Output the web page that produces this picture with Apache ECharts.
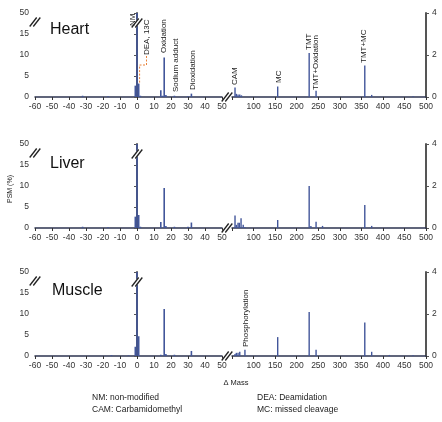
<!DOCTYPE html>
<html>
<head>
<meta charset="utf-8">
<title>PSM vs delta mass</title>
<script src="https://cdn.jsdelivr.net/npm/echarts@6.0.0/dist/echarts.min.js"></script>
<style>
    html, body { margin: 0; padding: 0; background: #fff; }
    #main { width: 442px; height: 422px; }
</style>
</head>
<body>
<div id="main"></div>
<script type="text/javascript">
    // 数据: [delta mass, PSM]
    var tissues = ['Heart', 'Liver', 'Muscle'];

    // 左段 -60..50, 左轴 (%), 顶端 50 为断轴
    var heartLow  = [[-32, 0.3], [-17, 0.15], [-1, 2.7], [0, 45], [1, 3.2], [2, 0.3], [14, 1.6], [15, 0.3], [16, 9.4], [17, 0.5], [22, 0.3], [30, 0.2], [32, 0.8]];
    var liverLow  = [[-32, 0.3], [-17, 0.2], [-1, 2.7], [0, 45], [1, 3.1], [2, 0.3], [14, 1.4], [16, 9.5], [17, 0.5], [22, 0.3], [30, 0.3], [32, 1.3]];
    var muscleLow = [[-15, 0.2], [-5, 0.15], [-1, 2.2], [0, 45], [1, 4.7], [14, 0.3], [16, 11.2], [17, 0.5], [22, 0.3], [32, 1.2]];

    // 右段 50..500, 右轴 (%)
    var heartHigh  = [[57, 0.45], [60, 0.15], [64, 0.12], [68, 0.12], [72, 0.08], [156, 0.5], [229, 2.1], [245, 0.3], [358, 1.5], [374, 0.1], [470, 0.03]];
    var liverHigh  = [[57, 0.6], [60, 0.15], [64, 0.25], [67, 0.25], [71, 0.47], [76, 0.15], [80, 0.05], [156, 0.38], [229, 2.0], [233, 0.1], [245, 0.3], [260, 0.1], [358, 1.1], [374, 0.1]];
    var muscleHigh = [[57, 0.1], [60, 0.15], [64, 0.15], [68, 0.2], [80, 0.3], [156, 0.9], [229, 2.1], [245, 0.3], [358, 1.6], [374, 0.2], [415, 0.05], [470, 0.03]];

    var lowSets = [heartLow, liverLow, muscleLow];
    var highSets = [heartHigh, liverHigh, muscleHigh];

    // 注释文字
    var heartNotes = ['NM', 'DEA, 13C', 'Oxidation', 'Sodium adduct', 'Dioxidation', 'CAM', 'MC', 'TMT', 'TMT+Oxidation', 'TMT+MC'];
    var muscleNotes = ['Phosphorylation'];
    var footNotes = ['NM: non-modified', 'CAM: Carbamidomethyl', 'DEA: Deamidation', 'MC: missed cleavage'];

    // 布局
    var FONT = 'Liberation Sans, Arial, sans-serif';
    var tops = [13, 144, 272];
    var panelH = 84;
    var barColor = '#42569a';
    var heartNotePos = [[132.5, 26], [146.5, 55], [164, 53], [176, 92], [193, 90], [235, 85], [278.5, 83], [308.5, 50], [316, 90], [363.5, 63]];
    var muscleNotePos = [[246, 347]];
    var footPos = [[92, 398], [92, 410], [257, 398], [257, 410]];

    var axisFont = {fontSize: 8.5, color: '#333', fontFamily: FONT};

    var grid = [], xAxis = [], yAxis = [], series = [];
    for (var i = 0; i < 3; i++) {
        grid.push({left: 35, top: tops[i], width: 187, height: panelH});
        grid.push({left: 232, top: tops[i], width: 194, height: panelH});

        xAxis.push({
            type: 'value', gridIndex: 2 * i, min: -60, max: 50, interval: 10,
            axisLine: {show: true, onZero: false, lineStyle: {color: '#2c3350', width: 1.5}},
            axisTick: {show: true, length: 3, lineStyle: {color: '#333'}},
            axisLabel: Object.assign({margin: 5}, axisFont),
            splitLine: {show: false}
        });
        xAxis.push({
            type: 'value', gridIndex: 2 * i + 1, min: 50, max: 500, interval: 50,
            axisLine: {show: true, onZero: false, lineStyle: {color: '#2c3350', width: 1.5}},
            axisTick: {show: true, length: 3, lineStyle: {color: '#333'}},
            axisLabel: Object.assign({margin: 5, formatter: function (v) { return v === 50 ? '' : v; }}, axisFont),
            splitLine: {show: false}
        });
        yAxis.push({
            type: 'value', gridIndex: 2 * i, min: 0, max: 20, interval: 5,
            axisLine: {show: true, lineStyle: {color: '#555', width: 2}},
            axisTick: {show: true, length: 3, lineStyle: {color: '#555'}},
            axisLabel: Object.assign({margin: 6, formatter: function (v) { return v === 20 ? '50' : v; }}, axisFont),
            splitLine: {show: false}
        });
        yAxis.push({
            type: 'value', gridIndex: 2 * i + 1, position: 'right', min: 0, max: 4, interval: 2,
            axisLine: {show: true, lineStyle: {color: '#555', width: 2}},
            axisTick: {show: true, length: 3, lineStyle: {color: '#555'}},
            axisLabel: Object.assign({margin: 6}, axisFont),
            splitLine: {show: false}
        });

        series.push({
            type: 'bar', xAxisIndex: 2 * i, yAxisIndex: 2 * i, data: lowSets[i],
            barWidth: 1.6, clip: true, itemStyle: {color: barColor}, silent: true
        });
        series.push({
            type: 'bar', xAxisIndex: 2 * i + 1, yAxisIndex: 2 * i + 1, data: highSets[i],
            barWidth: 1.4, clip: true, itemStyle: {color: barColor}, silent: true
        });
    }

    var myChart = echarts.init(document.getElementById('main'), null, {renderer: 'canvas'});
    myChart.setOption({
        animation: false,
        backgroundColor: '#fff',
        grid: grid,
        xAxis: xAxis,
        yAxis: yAxis,
        series: series
    });

    // 断轴标记 //
    function breakMark(cx, cy) {
        var items = [{
            type: 'line', z: 100,
            shape: {x1: cx - 3, y1: cy + 4, x2: cx + 3, y2: cy - 4},
            style: {stroke: '#fff', lineWidth: 4}
        }];
        [-1.8, 1.8].forEach(function (o) {
            items.push({
                type: 'line', z: 101,
                shape: {x1: cx - 3.5 + o, y1: cy + 4.5, x2: cx + 3.5 + o, y2: cy - 4.5},
                style: {stroke: '#222', lineWidth: 1.3}
            });
        });
        return items;
    }

    function rotText(text, x, y, size) {
        return {
            type: 'text', z: 102, x: x, y: y, rotation: Math.PI / 2,
            style: {text: text, fontSize: size || 8, fontFamily: FONT, fill: '#222', align: 'left', verticalAlign: 'middle'}
        };
    }

    var graphics = [];
    for (var k = 0; k < 3; k++) {
        var zeroX = myChart.convertToPixel({xAxisIndex: 2 * k}, 0);
        var axisY = tops[k] + panelH;
        graphics = graphics.concat(breakMark(35, tops[k] + 9));
        graphics = graphics.concat(breakMark(zeroX, tops[k] + 10));
        graphics = graphics.concat(breakMark(227, axisY));
        graphics.push({
            type: 'text', z: 102, x: [50, 50, 52][k], y: tops[k] + [9, 12, 11][k],
            style: {text: tissues[k], fontSize: 16, fontFamily: FONT, fill: '#111', verticalAlign: 'top'}
        });
    }

    heartNotes.forEach(function (t, j) {
        graphics.push(rotText(t, heartNotePos[j][0], heartNotePos[j][1]));
    });
    muscleNotes.forEach(function (t, j) {
        graphics.push(rotText(t, muscleNotePos[j][0], muscleNotePos[j][1]));
    });

    // DEA, 13C 引线
    graphics.push({
        type: 'polyline', z: 99,
        shape: {points: [[146.5, 56], [146.5, 65], [139.6, 65], [139.6, 83]]},
        style: {stroke: '#e8823a', lineWidth: 1, lineDash: [2, 1.5], fill: null}
    });

    graphics.push(rotText('PSM (%)', 10.5, 203, 7));
    graphics.push({
        type: 'text', z: 102, x: 236, y: 383,
        style: {text: 'Δ Mass', fontSize: 7.5, fontFamily: FONT, fill: '#222', align: 'center', verticalAlign: 'middle'}
    });
    footNotes.forEach(function (t, j) {
        graphics.push({
            type: 'text', z: 102, x: footPos[j][0], y: footPos[j][1],
            style: {text: t, fontSize: 8.5, fontFamily: FONT, fill: '#222', verticalAlign: 'middle'}
        });
    });

    myChart.setOption({graphic: graphics});
</script>
</body>
</html>
